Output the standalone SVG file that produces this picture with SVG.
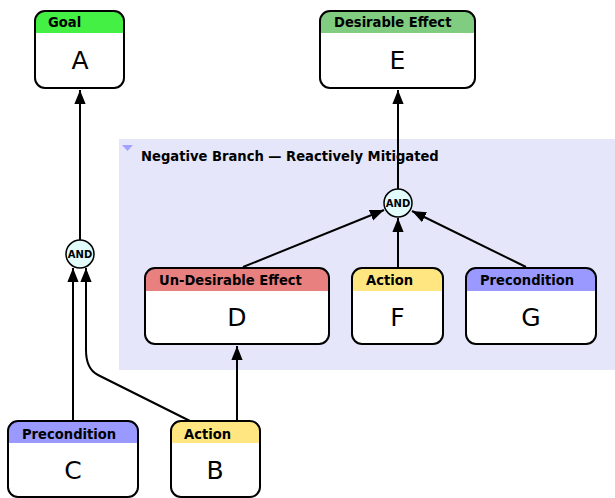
<svg xmlns="http://www.w3.org/2000/svg" width="615" height="498" viewBox="0 0 615 498">
<style>
.box{fill:none;stroke:#000;stroke-width:2}
.hd{font-family:"DejaVu Sans Condensed","DejaVu Sans",sans-serif;font-weight:bold;font-size:14.6px;fill:#000}
.bd{font-family:"DejaVu Sans",sans-serif;font-size:25px;fill:#000;text-anchor:middle}
.andc{fill:#e2fbfb;stroke:#000;stroke-width:1.5}
.andt{font-family:"DejaVu Sans",sans-serif;font-weight:bold;font-size:10px;text-anchor:middle;fill:#000}
.e{fill:none;stroke:#000;stroke-width:2;marker-end:url(#ah)}
</style>
<defs>
<marker id="ah" viewBox="0 0 10 10" refX="10" refY="5" markerWidth="14" markerHeight="14" orient="auto" markerUnits="userSpaceOnUse">
<path d="M0,1 L10,5 L0,9 z" fill="#000"/>
</marker>
</defs>
<rect width="615" height="498" fill="#fff"/>
<g id="group-negative-branch">
<rect x="119" y="139" width="496" height="231" fill="#e6e6fa"/>
<path d="M122,145 L133,145 L127.5,151 z" fill="#a3a3ff"/>
<text x="141" y="161" class="hd">Negative Branch — Reactively Mitigated</text>
</g>
<g id="connectors">
<path d="M80,240 L80,90" class="e"/>
<path d="M73,421 L73,268" class="e"/>
<path d="M190,421 L98,375 Q86,369 86,350 L86,268" class="e"/>
<path d="M237,421 L237,346" class="e"/>
<path d="M243,267 L384,210" class="e"/>
<path d="M398,267 L398,218" class="e"/>
<path d="M526,267 L412,211" class="e"/>
<path d="M398,189 L398,90" class="e"/>
</g>
<g id="and-left">
<circle cx="80" cy="254" r="14" class="andc"/>
<text x="80" y="257.5" class="andt">AND</text>
</g>
<g id="and-right">
<circle cx="398" cy="203" r="14" class="andc"/>
<text x="398" y="206.5" class="andt">AND</text>
</g>
<g id="node-A">
<rect x="35" y="11" width="89" height="77" rx="10" fill="#fff"/>
<path d="M35,33 V21 Q35,11 45,11 H114 Q124,11 124,21 V33 z" fill="#44f044"/>
<rect x="35" y="11" width="89" height="77" rx="10" class="box"/>
<text x="48" y="27" class="hd">Goal</text>
<text x="80" y="69" class="bd">A</text>
</g>
<g id="node-E">
<rect x="320" y="11" width="155" height="77" rx="10" fill="#fff"/>
<path d="M320,33 V21 Q320,11 330,11 H465 Q475,11 475,21 V33 z" fill="#80cc80"/>
<rect x="320" y="11" width="155" height="77" rx="10" class="box"/>
<text x="334" y="27" class="hd">Desirable Effect</text>
<text x="397.5" y="69" class="bd">E</text>
</g>
<g id="node-D">
<rect x="145" y="268" width="184" height="76" rx="10" fill="#fff"/>
<path d="M145,291 V278 Q145,268 155,268 H319 Q329,268 329,278 V291 z" fill="#e88080"/>
<rect x="145" y="268" width="184" height="76" rx="10" class="box"/>
<text x="159" y="285" class="hd">Un-Desirable Effect</text>
<text x="237" y="326" class="bd">D</text>
</g>
<g id="node-F">
<rect x="352" y="268" width="91" height="76" rx="10" fill="#fff"/>
<path d="M352,291 V278 Q352,268 362,268 H433 Q443,268 443,278 V291 z" fill="#ffe680"/>
<rect x="352" y="268" width="91" height="76" rx="10" class="box"/>
<text x="366" y="285" class="hd">Action</text>
<text x="397.5" y="326" class="bd">F</text>
</g>
<g id="node-G">
<rect x="466" y="268" width="130" height="76" rx="10" fill="#fff"/>
<path d="M466,291 V278 Q466,268 476,268 H586 Q596,268 596,278 V291 z" fill="#9999ff"/>
<rect x="466" y="268" width="130" height="76" rx="10" class="box"/>
<text x="480" y="285" class="hd">Precondition</text>
<text x="531" y="326" class="bd">G</text>
</g>
<g id="node-C">
<rect x="8" y="421" width="130" height="76" rx="10" fill="#fff"/>
<path d="M8,443 V431 Q8,421 18,421 H128 Q138,421 138,431 V443 z" fill="#9999ff"/>
<rect x="8" y="421" width="130" height="76" rx="10" class="box"/>
<text x="22" y="439" class="hd">Precondition</text>
<text x="73" y="479" class="bd">C</text>
</g>
<g id="node-B">
<rect x="171" y="421" width="89" height="76" rx="10" fill="#fff"/>
<path d="M171,443 V431 Q171,421 181,421 H250 Q260,421 260,431 V443 z" fill="#ffe680"/>
<rect x="171" y="421" width="89" height="76" rx="10" class="box"/>
<text x="184" y="439" class="hd">Action</text>
<text x="215" y="479" class="bd">B</text>
</g>
</svg>
